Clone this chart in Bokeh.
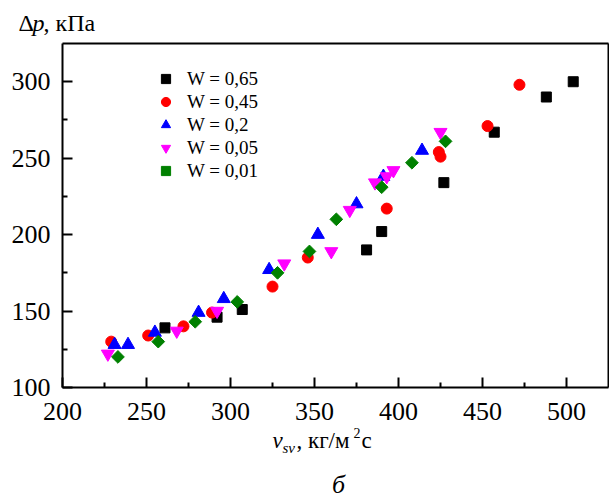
import math
from bokeh.plotting import figure
from bokeh.models import Legend, LegendItem, Label, Range1d, FixedTicker, LinearAxis
from bokeh.embed import file_html
from bokeh.resources import INLINE

# ---- data ----
series_labels = ["W = 0,65", "W = 0,45", "W = 0,2", "W = 0,05", "W = 0,01"]

w065_x = [261, 292, 307, 381, 390, 427, 457, 488, 504]
w065_y = [139, 146, 151, 190, 202, 234, 267, 290, 300]

w045_x = [229, 251, 272, 289, 325, 346, 393, 424, 425, 453, 472]
w045_y = [130, 134, 140, 149, 166, 185, 217, 254, 251, 271, 298]

w02_x = [231, 239, 255, 281, 296, 323, 352, 375, 391, 414]
w02_y = [128, 128, 136, 149, 158, 177, 200, 220, 238, 255]

w005_x = [227, 268, 292, 332, 360, 371, 386, 393, 397, 425]
w005_y = [122, 137, 150, 181, 189, 216, 234, 238, 242, 267]

w001_x = [233, 257, 279, 304, 328, 347, 363, 390, 408, 428]
w001_y = [120, 130, 143, 156, 175, 189, 210, 231, 247, 261]

x_ticks = [200, 250, 300, 350, 400, 450, 500]
x_minor = [225, 275, 325, 375, 425, 475]
y_ticks = [100, 150, 200, 250, 300]
y_minor = [125, 175, 225, 275]

X_LO, X_HI = 200, 525
Y_LO, Y_HI = 100, 325

FONT = "Liberation Serif"

# ---- layout: the frame fills the canvas, axes sit at fixed data positions ----
W, H = 609, 498
BOX_L, BOX_R, BOX_T, BOX_B = 62, 608, 43, 387   # plot box in canvas pixels
sx = (BOX_R - BOX_L) / (X_HI - X_LO)
sy = (BOX_B - BOX_T) / (Y_HI - Y_LO)
xr = Range1d(X_LO - BOX_L / sx, X_HI + (W - BOX_R) / sx)
yr = Range1d(Y_LO - (H - BOX_B) / sy, Y_HI + BOX_T / sy)

p = figure(width=W, height=H, output_backend="svg", toolbar_location=None,
           x_range=xr, y_range=yr, x_axis_location=None, y_axis_location=None,
           min_border=0, min_border_left=0, min_border_right=0,
           min_border_top=0, min_border_bottom=0)
p.xgrid.visible = False
p.ygrid.visible = False
p.outline_line_color = None
p.background_fill_color = "white"
p.border_fill_color = "white"


def style_axis(ax, ticks, minor, labels=True):
    ax.ticker = FixedTicker(ticks=ticks, minor_ticks=minor)
    ax.axis_line_width = 2
    ax.axis_line_color = "black"
    ax.major_tick_line_width = 2
    ax.minor_tick_line_width = 2
    ax.major_tick_in = 10
    ax.major_tick_out = 0
    ax.minor_tick_in = 5
    ax.minor_tick_out = 0
    ax.major_label_text_font = FONT
    ax.major_label_text_font_size = "26px"
    ax.major_label_text_color = "black"
    if not labels:
        ax.major_tick_line_color = None
        ax.minor_tick_line_color = None
        ax.major_label_text_font_size = "0px"


xaxis = LinearAxis(fixed_location=Y_LO, bounds=(X_LO, X_HI))
style_axis(xaxis, x_ticks, x_minor)
xaxis.major_label_standoff = 15
p.add_layout(xaxis, "below")

yaxis = LinearAxis(fixed_location=X_LO, bounds=(Y_LO, Y_HI))
style_axis(yaxis, y_ticks, y_minor)
yaxis.major_label_standoff = 12
p.add_layout(yaxis, "left")

top_axis = LinearAxis(fixed_location=Y_HI, bounds=(X_LO, X_HI))
style_axis(top_axis, [], [], labels=False)
p.add_layout(top_axis, "above")

right_axis = LinearAxis(fixed_location=X_HI, bounds=(Y_LO, Y_HI))
style_axis(right_axis, [], [], labels=False)
p.add_layout(right_axis, "right")

specs = [
    (w065_x, w065_y, "square", 10, "black", 0),
    (w045_x, w045_y, "circle", 11, "red", 0),
    (w02_x, w02_y, "triangle", 13, "blue", 0),
    (w005_x, w005_y, "inverted_triangle", 13, "magenta", 0),
    (w001_x, w001_y, "square", 9, "green", math.pi / 4),
]

items = []
for (xs, ys, marker, size, color, ang), lab in zip(specs, series_labels):
    r = p.scatter(xs, ys, marker=marker, size=size, fill_color=color,
                  line_color=color, line_width=1, angle=ang)
    items.append(LegendItem(label=lab, renderers=[r]))

legend = Legend(items=items, location=(154, H - 182),
                label_text_font=FONT, label_text_font_size="19px",
                label_text_color="black",
                glyph_width=23, glyph_height=23, label_height=23,
                spacing=0, padding=0, margin=0, label_standoff=10,
                border_line_alpha=0, background_fill_alpha=0)
p.add_layout(legend, "center")


def lab(text, x, baseline, size, style="normal", align="left"):
    # x, baseline: canvas pixels measured from the top-left corner
    y = baseline - 0.38 * size
    p.add_layout(Label(x=x, y=H - y, x_units="screen", y_units="screen", text=text,
                       text_font=FONT, text_font_size=f"{size}px", text_font_style=style,
                       text_align=align, text_baseline="alphabetic",
                       text_color="black"))


# y-axis title  "Δp, кПа"
lab("Δ", 18, 32, 24)
lab("p", 32, 32, 24, "italic")
lab(", кПа", 43, 32, 24)

# x-axis title  "v_sv, кг/м²с"
lab("v", 272, 449, 23, "italic")
lab("sv", 282, 453, 15, "italic")
lab(", кг/м", 296, 449, 23)
lab("2", 353, 438, 14)
lab("с", 361, 449, 23)

# panel letter
lab("б", 338, 494, 26, "italic", "center")

open("out.html", "w").write(file_html(p, INLINE))
